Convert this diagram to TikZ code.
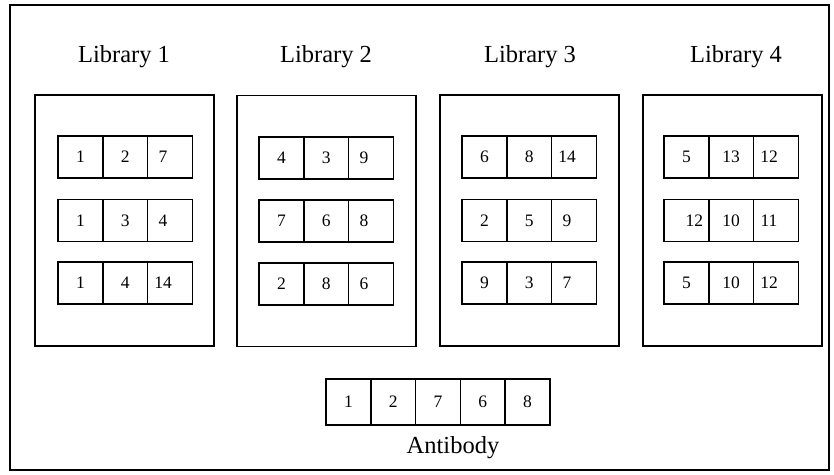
\documentclass[tikz,border=0pt]{standalone}
\usepackage{fontspec}
\setmainfont{Liberation Serif}
\usetikzlibrary{positioning}
\tikzset{
	frame/.style={draw,line width=1.5pt},
	libbox/.style={frame,minimum width=179pt,minimum height=251pt,outer sep=0pt},
	cell/.style={frame,minimum width=44.8pt,minimum height=42pt,inner sep=0pt,outer sep=0pt,font=\fontsize{17.5}{18}\selectfont},
	abcell/.style={cell,minimum height=46pt},
	leftnum/.style={execute at begin node={\hspace*{-14pt}}},
	rightnum/.style={execute at begin node={\hspace*{16pt}}},
	caption/.style={anchor=base,inner sep=0pt,font=\fontsize{24.5}{26}\selectfont}
}
\begin{document}
\begin{tikzpicture}[x=1pt,y=-1pt]
				\useasboundingbox (0,0) rectangle (834,474);
				\draw[line width=1.5pt] (10,5) rectangle (829,470);
				% libraries
				\node[libbox] (lib1) at (124.5,220.5) {};
				\node[libbox] (lib2) at (326.5,221) {};
				\node[libbox] (lib3) at (529.5,220.5) {};
				\node[libbox] (lib4) at (732.5,220.5) {};
				\node[caption] (lab1) at (124,62) {Library 1};
				\node[caption] (lab2) at (326,62) {Library 2};
				\node[caption] (lab3) at (530,62) {Library 3};
				\node[caption] (lab4) at (736,62) {Library 4};
				% library 1
				\node[cell] (a11) at (80.4,157) {1};
				\node[cell,right=0pt of a11] (a12) {2};
				\node[cell,leftnum,right=0pt of a12] (a13) {7};
				\node[cell] (a21) at (80.4,220.5) {1};
				\node[cell,right=0pt of a21] (a22) {3};
				\node[cell,leftnum,right=0pt of a22] (a23) {4};
				\node[cell] (a31) at (80.4,283) {1};
				\node[cell,right=0pt of a31] (a32) {4};
				\node[cell,leftnum,right=0pt of a32] (a33) {14};
				% library 2
				\node[cell] (b11) at (281.4,158) {4};
				\node[cell,right=0pt of b11] (b12) {3};
				\node[cell,leftnum,right=0pt of b12] (b13) {9};
				\node[cell] (b21) at (281.4,221) {7};
				\node[cell,right=0pt of b21] (b22) {6};
				\node[cell,leftnum,right=0pt of b22] (b23) {8};
				\node[cell] (b31) at (281.4,284) {2};
				\node[cell,right=0pt of b31] (b32) {8};
				\node[cell,leftnum,right=0pt of b32] (b33) {6};
				% library 3
				\node[cell] (c11) at (484.4,157) {6};
				\node[cell,right=0pt of c11] (c12) {8};
				\node[cell,leftnum,right=0pt of c12] (c13) {14};
				\node[cell] (c21) at (484.4,220.5) {2};
				\node[cell,right=0pt of c21] (c22) {5};
				\node[cell,leftnum,right=0pt of c22] (c23) {9};
				\node[cell] (c31) at (484.4,283) {9};
				\node[cell,right=0pt of c31] (c32) {3};
				\node[cell,leftnum,right=0pt of c32] (c33) {7};
				% library 4
				\node[cell] (d11) at (686.4,157) {5};
				\node[cell,right=0pt of d11] (d12) {13};
				\node[cell,leftnum,right=0pt of d12] (d13) {12};
				\node[cell,rightnum] (d21) at (686.4,220.5) {12};
				\node[cell,right=0pt of d21] (d22) {10};
				\node[cell,leftnum,right=0pt of d22] (d23) {11};
				\node[cell] (d31) at (686.4,283) {5};
				\node[cell,right=0pt of d31] (d32) {10};
				\node[cell,leftnum,right=0pt of d32] (d33) {12};
				% antibody
				\node[abcell] (ab1) at (348.4,402) {1};
				\node[abcell,right=0pt of ab1] (ab2) {2};
				\node[abcell,right=0pt of ab2] (ab3) {7};
				\node[abcell,right=0pt of ab3] (ab4) {6};
				\node[abcell,right=0pt of ab4] (ab5) {8};
				\node[caption] (abname) at (453,453) {Antibody};
			\end{tikzpicture}
\end{document}
